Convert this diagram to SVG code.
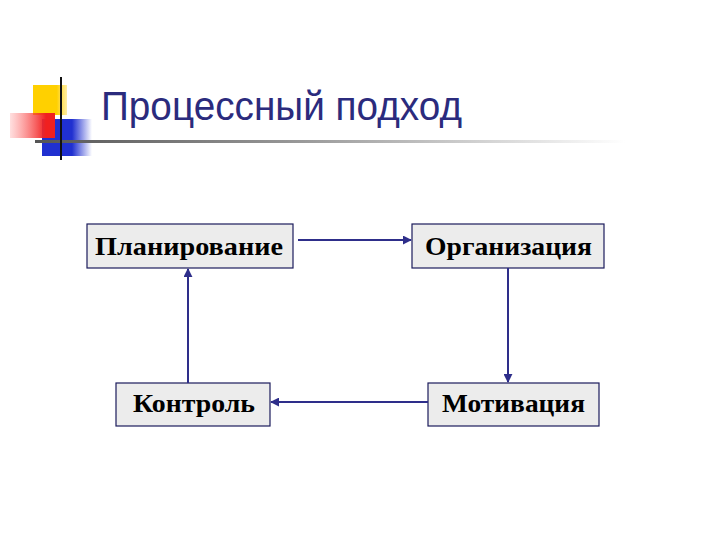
<svg xmlns="http://www.w3.org/2000/svg" width="720" height="540" viewBox="0 0 720 540">
<defs>
<style>
.box{fill:#ececec;stroke:#1c1c5c;stroke-width:1.2}
.lbl{font-family:"Liberation Serif","Times New Roman",serif;font-weight:bold;font-size:25px;fill:#000}
.con{stroke:#2e2e8a;stroke-width:2;fill:none;marker-end:url(#ah)}
</style>
<marker id="ah" viewBox="0 0 10 10" refX="9" refY="5" markerWidth="4.5" markerHeight="4.5" orient="auto" markerUnits="strokeWidth">
<path d="M0,0 L10,5 L0,10 z" fill="#2e2e8a"/>
</marker>
<linearGradient id="hl" x1="0" x2="1" y1="0" y2="0">
<stop offset="0" stop-color="#555"/>
<stop offset="0.45" stop-color="#999"/>
<stop offset="1" stop-color="#fff"/>
</linearGradient>
<linearGradient id="red" x1="0" x2="1" y1="0" y2="0">
<stop offset="0" stop-color="#ff6060" stop-opacity="0.2"/>
<stop offset="0.8" stop-color="#f02020"/>
<stop offset="1" stop-color="#f02020"/>
</linearGradient>
<linearGradient id="blue" x1="0" x2="1" y1="0" y2="0">
<stop offset="0" stop-color="#2030d0"/>
<stop offset="0.6" stop-color="#2030d0"/>
<stop offset="1" stop-color="#2030d0" stop-opacity="0"/>
</linearGradient>
<linearGradient id="yel" x1="0" x2="1" y1="0" y2="0">
<stop offset="0" stop-color="#ffd000"/>
<stop offset="0.7" stop-color="#ffd000"/>
<stop offset="1" stop-color="#ffe060" stop-opacity="0.6"/>
</linearGradient>
</defs>
<rect width="720" height="540" fill="#fff"/>
<g id="title">
<rect x="33" y="85" width="34" height="30" fill="url(#yel)"/>
<rect x="42" y="119" width="50" height="37" fill="url(#blue)"/>
<rect x="10" y="113" width="45" height="25" fill="url(#red)"/>
<rect x="35" y="140" width="590" height="3" fill="url(#hl)"/>
<line x1="61" y1="77" x2="61" y2="160" stroke="#111" stroke-width="2"/>
<text x="101" y="120" font-family="Liberation Sans, Arial, sans-serif" font-size="40" fill="#2b2b7d" textLength="361" lengthAdjust="spacingAndGlyphs">Процессный подход</text>
</g>
<g id="planning">
<rect class="box" x="87" y="224" width="206" height="44"/>
<text class="lbl" x="95" y="255" textLength="188" lengthAdjust="spacingAndGlyphs">Планирование</text>
</g>
<g id="organization">
<rect class="box" x="412" y="224" width="192" height="44"/>
<text class="lbl" x="425" y="255" textLength="167" lengthAdjust="spacingAndGlyphs">Организация</text>
</g>
<g id="control">
<rect class="box" x="116" y="383" width="154" height="43"/>
<text class="lbl" x="133" y="412" textLength="122" lengthAdjust="spacingAndGlyphs">Контроль</text>
</g>
<g id="motivation">
<rect class="box" x="428" y="383" width="171" height="43"/>
<text class="lbl" x="442" y="412" textLength="143" lengthAdjust="spacingAndGlyphs">Мотивация</text>
</g>
<g id="connectors">
<line class="con" x1="298" y1="240" x2="411" y2="240"/>
<line class="con" x1="508" y1="268" x2="508" y2="382"/>
<line class="con" x1="428" y1="402" x2="271" y2="402"/>
<line class="con" x1="188" y1="383" x2="188" y2="269"/>
</g>
</svg>
